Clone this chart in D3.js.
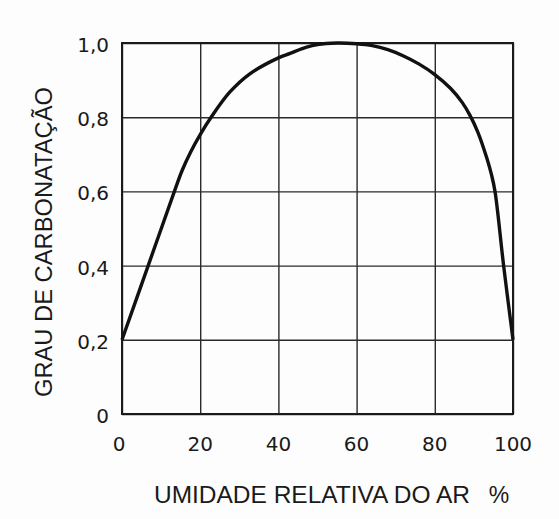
<!DOCTYPE html>
<html><head><meta charset="utf-8">
<script src="https://cdn.jsdelivr.net/npm/d3@7"></script>
<style>html,body{margin:0;padding:0;background:#fdfdfd;}svg{display:block;}</style>
</head><body>
<script>
const humidity = [0, 6.7, 13.4, 15.4, 17.5, 20, 23, 27.6, 32.7, 40, 43, 47, 50, 55, 60, 64, 68, 72, 76, 80, 84, 87, 89, 91, 93.3, 94.5, 95.4, 97.6, 100];
const carbonation = [0.2, 0.4, 0.6, 0.657, 0.705, 0.753, 0.803, 0.868, 0.917, 0.96, 0.972, 0.988, 0.996, 1.0, 0.998, 0.993, 0.982, 0.965, 0.943, 0.915, 0.878, 0.84, 0.805, 0.76, 0.69, 0.645, 0.6, 0.4, 0.2];
const xTicks = [0, 20, 40, 60, 80, 100];
const yTicks = [0, 0.2, 0.4, 0.6, 0.8, 1.0];
const yTickLabels = ["0", "0,2", "0,4", "0,6", "0,8", "1,0"];
const xTitle = "UMIDADE RELATIVA DO AR";
const xUnit = "%";
const yTitle = "GRAU DE CARBONATAÇÃO";

const W = 559, H = 519;
const svg = d3.select("body").append("svg").attr("width", W).attr("height", H);
svg.append("rect").attr("width", W).attr("height", H).attr("fill", "#fdfdfd");

const x = d3.scaleLinear().domain([0, 100]).range([122, 513]);
const y = d3.scaleLinear().domain([0, 1]).range([414, 43]);

const ink = "#1a1a1a";
// grid via axes
const gx = svg.append("g").attr("transform", `translate(0,${y(0)})`)
  .call(d3.axisBottom(x).tickValues(xTicks).tickSize(-(y(0) - y(1))).tickFormat(""));
const gy = svg.append("g").attr("transform", `translate(${x(0)},0)`)
  .call(d3.axisLeft(y).tickValues(yTicks).tickSize(-(x(100) - x(0))).tickFormat(""));
[gx, gy].forEach(g => {
  g.select(".domain").remove();
  g.selectAll(".tick line").attr("stroke", "#2a2a2a").attr("stroke-width", 1.4);
});
// frame
svg.append("rect").attr("x", x(0)).attr("y", y(1)).attr("width", x(100) - x(0)).attr("height", y(0) - y(1))
  .attr("fill", "none").attr("stroke", ink).attr("stroke-width", 2);

// tick labels
svg.append("g").selectAll("text").data(xTicks).join("text")
  .attr("x", d => x(d) - (d === 0 ? 3 : 0)).attr("y", 451)
  .attr("text-anchor", "middle").attr("font-family", "DejaVu Sans").attr("font-size", 20).attr("fill", ink)
  .text(d => d);
svg.append("g").selectAll("text").data(yTicks).join("text")
  .attr("x", 109).attr("y", d => y(d) + 9)
  .attr("text-anchor", "end").attr("font-family", "DejaVu Sans").attr("font-size", 20).attr("fill", ink)
  .text((d, i) => yTickLabels[i]);

// titles
svg.append("text").attr("x", 154).attr("y", 503).attr("font-family", "Liberation Sans").attr("font-size", 23)
  .attr("textLength", 316).attr("lengthAdjust", "spacingAndGlyphs")
  .attr("fill", ink).text(xTitle);
svg.append("text").attr("x", 499).attr("y", 503).attr("text-anchor", "middle").attr("font-family", "Liberation Sans").attr("font-size", 23)
  .attr("fill", ink).text(xUnit);
svg.append("text").attr("transform", "translate(52,242) rotate(-90)").attr("text-anchor", "middle")
  .attr("font-family", "Liberation Sans").attr("font-size", 23)
  .attr("textLength", 310).attr("lengthAdjust", "spacingAndGlyphs")
  .attr("fill", ink).text(yTitle);

// curve
const pts = humidity.map((h, i) => [h, carbonation[i]]);
svg.append("path").datum(pts)
  .attr("d", d3.line().x(d => x(d[0])).y(d => y(d[1])).curve(d3.curveCatmullRom.alpha(0.5)))
  .attr("fill", "none").attr("stroke", "#111").attr("stroke-width", 3.4).attr("stroke-linejoin", "round");
</script>
</body></html>
